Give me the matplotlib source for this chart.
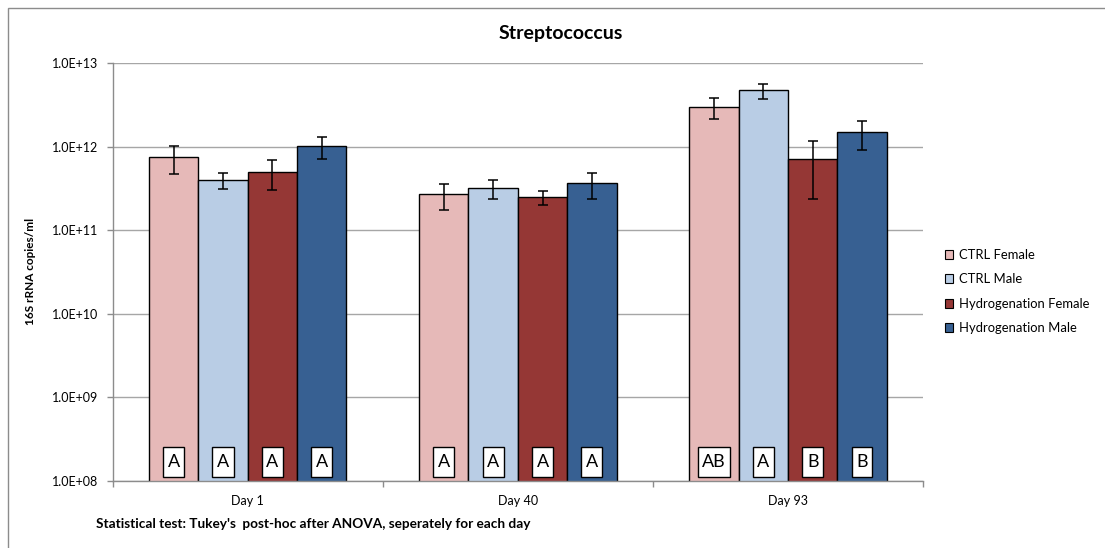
import matplotlib
matplotlib.use("Agg")
import matplotlib.pyplot as plt
import matplotlib.transforms as mtransforms
from matplotlib.patches import Patch, Rectangle
from matplotlib.path import Path
from matplotlib.ticker import FixedLocator, FuncFormatter
import numpy as np

plt.rcParams['font.family'] = ['Lato', 'DejaVu Sans']

days = ["Day 1", "Day 40", "Day 93"]
series = ["CTRL Female", "CTRL Male", "Hydrogenation Female", "Hydrogenation Male"]
colors = ["#E6B9B8", "#B9CDE5", "#953735", "#376092"]

# mean copies/ml per series (rows) and day (columns)
means = [
    [7.5e11, 2.71e11, 3.03e12],
    [4.03e11, 3.24e11, 4.84e12],
    [5.02e11, 2.52e11, 7.06e11],
    [1.02e12, 3.68e11, 1.49e12],
]
err_upper = [
    [1.03e12, 3.61e11, 3.88e12],
    [4.84e11, 4.03e11, 5.71e12],
    [6.87e11, 2.95e11, 1.16e12],
    [1.31e12, 4.84e11, 2.03e12],
]
err_lower = [
    [4.76e11, 1.74e11, 2.17e12],
    [3.14e11, 2.39e11, 3.78e12],
    [3.06e11, 1.98e11, 2.39e11],
    [7.06e11, 2.39e11, 9.06e11],
]
letters = [
    ["A", "A", "AB"],
    ["A", "A", "A"],
    ["A", "A", "B"],
    ["A", "A", "B"],
]


def letter_box(x0, y0, width, height, mutation_size):
    """Rectangle around a group letter, taller than it is padded sideways."""
    px = 0.25 * mutation_size
    py = 0.38 * mutation_size
    verts = [(x0 - px, y0 - py), (x0 + width + px, y0 - py),
             (x0 + width + px, y0 + height + py), (x0 - px, y0 + height + py),
             (x0 - px, y0 - py)]
    codes = [Path.MOVETO, Path.LINETO, Path.LINETO, Path.LINETO, Path.CLOSEPOLY]
    return Path(verts, codes)


W, H = 1105, 548
fig = plt.figure(figsize=(W / 100, H / 100), dpi=100)
ax = fig.add_axes([112.7 / W, 1 - 480.5 / H, 810.3 / W, 417.2 / H])

# outer chart frame
fig.patches.append(Rectangle((8 / W, -0.1), 1.2, 1 - 8 / H + 0.1,
                             transform=fig.transFigure, fill=False,
                             edgecolor="#8c8c8c", linewidth=1.0))

group_w = 0.731
bw = group_w / len(series)
x = np.arange(len(days))
trans = mtransforms.blended_transform_factory(ax.transData, ax.transAxes)

for i, (name, col) in enumerate(zip(series, colors)):
    pos = x - group_w / 2 + bw * (i + 0.5)
    m = np.array(means[i])
    up = np.array(err_upper[i]) - m
    lo = m - np.array(err_lower[i])
    ax.bar(pos, m, width=bw, color=col, edgecolor="black",
           linewidth=1.0, zorder=2, label=name)
    ax.errorbar(pos, m, yerr=[lo, up], fmt="none", ecolor="black",
                elinewidth=1.1, capsize=3.6, capthick=1.1, zorder=3)
    for p, lab in zip(pos, letters[i]):
        ax.text(p, 0.044, lab, transform=trans, ha="center", va="center",
                fontsize=13, zorder=4,
                bbox=dict(boxstyle=letter_box, facecolor="white",
                          edgecolor="black", linewidth=1.0))

ax.set_yscale("log")
ax.set_ylim(1e8, 1e13)
ax.set_xlim(-0.5, len(days) - 0.5)
ax.yaxis.set_major_locator(FixedLocator([10.0 ** k for k in range(8, 14)]))
ax.yaxis.set_minor_locator(FixedLocator([]))
ax.yaxis.set_major_formatter(FuncFormatter(lambda v, p: "1.0E+%02d" % round(np.log10(v))))
ax.grid(axis="y", color="#a6a6a6", linewidth=1.0, zorder=0)
ax.set_axisbelow(True)

ax.set_xticks(x)
ax.set_xticklabels(days)
ax.set_xticks(np.arange(len(days) + 1) - 0.5, minor=True)
ax.tick_params(axis="x", which="major", length=0, pad=10.5, labelsize=9)
ax.tick_params(axis="x", which="minor", length=4, color="#8c8c8c", width=1.0)
ax.tick_params(axis="y", which="major", length=4.3, color="#8c8c8c", width=1.0,
               labelsize=9, pad=6)

for s in ["top", "right"]:
    ax.spines[s].set_visible(False)
for s in ["left", "bottom"]:
    ax.spines[s].set_color("#8c8c8c")
    ax.spines[s].set_linewidth(1.0)

ax.set_ylabel("16S rRNA copies/ml", fontsize=8.5, fontweight="bold")
ax.yaxis.set_label_coords((36.5 - 112.7) / 810.3, 0.5)

fig.text(561 / W, 1 - 33 / H, "Streptococcus", ha="center", va="center",
         fontsize=14, fontweight="bold")
fig.text(96.4 / W, 1 - 524 / H,
         "Statistical test: Tukey's  post-hoc after ANOVA, seperately for each day",
         ha="left", va="center", fontsize=9.8, fontweight="bold")

handles = [Patch(facecolor=c, edgecolor="black", linewidth=0.8) for c in colors]
fig.legend(handles, series, loc="upper left", bbox_to_anchor=(945 / W, 1 - 249 / H),
           frameon=False, fontsize=9.4, handlelength=0.65, handleheight=0.65,
           handletextpad=0.45, labelspacing=0.95, borderaxespad=0, borderpad=0)

fig.savefig("out.png", dpi=100)
